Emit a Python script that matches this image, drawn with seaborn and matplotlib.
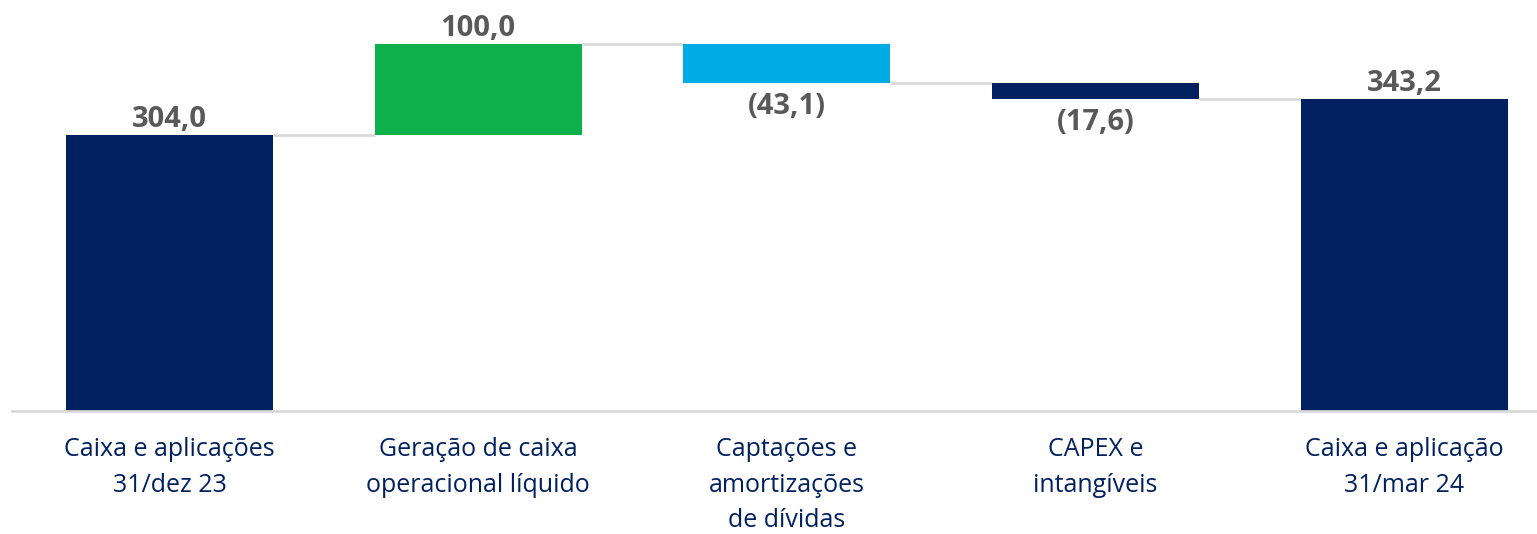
import numpy as np
import pandas as pd
import seaborn as sns
import matplotlib.pyplot as plt

# chart data
categories = [
    "Caixa e aplicações\n31/dez 23",
    "Geração de caixa\noperacional líquido",
    "Captações e\namortizações\nde dívidas",
    "CAPEX e\nintangíveis",
    "Caixa e aplicação\n31/mar 24",
]
values = [304.0, 100.0, -43.1, -17.6, 343.2]
is_total = [True, False, False, False, True]
bar_colors = ["#002060", "#0DB04B", "#00ABE6", "#002060", "#002060"]

NAVY = "#002060"
LABEL_GRAY = "#595959"
LINE_GRAY = "#D9D9D9"


def waterfall_frame(cats, vals, totals):
    """Work out the floating base and height of each waterfall bar."""
    bases, heights, levels = [], [], []
    running = 0.0
    for v, tot in zip(vals, totals):
        if tot:
            bases.append(0.0)
            heights.append(v)
            running = v
        else:
            if v >= 0:
                bases.append(running)
                heights.append(v)
            else:
                bases.append(running + v)
                heights.append(-v)
            running += v
        levels.append(running)
    return pd.DataFrame({"cat": cats, "value": vals, "base": bases,
                         "height": heights, "level": levels})


def fmt(v):
    s = f"{abs(v):.1f}".replace(".", ",")
    return f"({s})" if v < 0 else s


df = waterfall_frame(categories, values, is_total)

sns.set_theme(style="white")
plt.rcParams["font.family"] = ["Open Sans", "DejaVu Sans"]

fig = plt.figure(figsize=(15.37, 5.34), dpi=100)
ax = fig.add_axes([12 / 1537, 123 / 534, 1525 / 1537, 411 / 534])

sns.barplot(data=df, x="cat", y="height", bottom=df["base"].values,
            color=NAVY, width=0.67, saturation=1, ax=ax)

for patch, c in zip(ax.patches, bar_colors):
    patch.set_facecolor(c)
    patch.set_edgecolor("none")

# connector lines between bars
for i in range(len(df) - 1):
    x0 = ax.patches[i].get_x() + ax.patches[i].get_width()
    x1 = ax.patches[i + 1].get_x()
    ax.hlines(df["level"][i], x0, x1, color=LINE_GRAY, lw=2, zorder=0)

# value labels
for i, row in df.iterrows():
    p = ax.patches[i]
    xc = p.get_x() + p.get_width() / 2
    if row["value"] >= 0:
        ax.annotate(fmt(row["value"]), (xc, row["base"] + row["height"]),
                    xytext=(0, 1), textcoords="offset points",
                    ha="center", va="bottom", fontsize=21,
                    fontweight="bold", color=LABEL_GRAY)
    else:
        ax.annotate(fmt(row["value"]), (xc, row["base"]),
                    xytext=(0, -6), textcoords="offset points",
                    ha="center", va="top", fontsize=21,
                    fontweight="bold", color=LABEL_GRAY)

ax.set_xlim(-0.51, 4.43)
ax.set_ylim(0, 452.6)
ax.set_xlabel("")
ax.set_ylabel("")
ax.set_yticks([])
ax.tick_params(axis="x", length=0, pad=19, labelsize=18, labelcolor=NAVY)
for lbl in ax.get_xticklabels():
    lbl.set_linespacing(1.55)

sns.despine(ax=ax, left=True, top=True, right=True)
ax.spines["bottom"].set_color(LINE_GRAY)
ax.spines["bottom"].set_linewidth(2)

fig.savefig("out.png", dpi=100)
